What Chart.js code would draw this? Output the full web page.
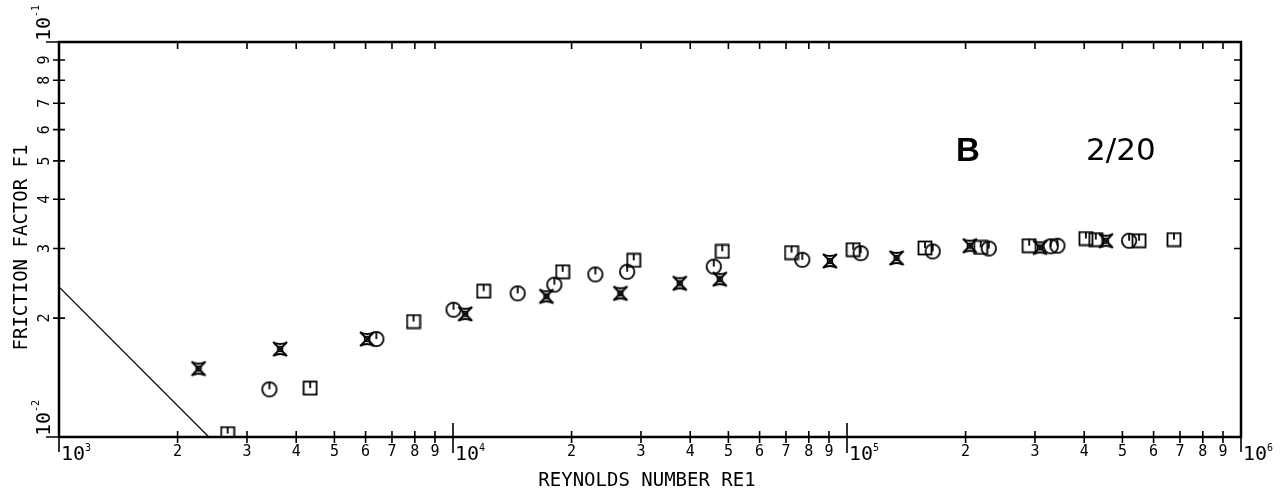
<!DOCTYPE html>
<html>
<head>
<meta charset="utf-8">
<script src="https://cdn.jsdelivr.net/npm/chart.js@4.4.1/dist/chart.umd.min.js"></script>
<style>
  body { margin: 0; background: #fff; }
</style>
</head>
<body>
<canvas id="myChart" width="1281" height="497"></canvas>
<script>
// data (Re, f)
const reCircle = [3420, 6390, 10030, 14590, 18080, 22980, 27670, 45900, 77000, 108300, 165000, 229000, 329000, 342000, 520000];
const fCircle  = [0.0132, 0.0177, 0.0210, 0.0231, 0.0243, 0.0258, 0.0262, 0.0270, 0.0281, 0.0292, 0.0295, 0.0300, 0.0304, 0.0305, 0.0314];

const reSquare = [2680, 4340, 7940, 11960, 18980, 28750, 48240, 72300, 103700, 157700, 218500, 290000, 404000, 428000, 551000, 676000];
const fSquare  = [0.0102, 0.0133, 0.0196, 0.0234, 0.0262, 0.0280, 0.0295, 0.0293, 0.0298, 0.0301, 0.0302, 0.0305, 0.0318, 0.0316, 0.0314, 0.0316];

const reCross = [2260, 3640, 6050, 10740, 17260, 26600, 37630, 47550, 90500, 133600, 205000, 309000, 454000];
const fCross  = [0.0149, 0.0167, 0.0177, 0.0205, 0.0227, 0.0231, 0.0245, 0.0251, 0.0279, 0.0284, 0.0305, 0.0302, 0.0314];

// laminar line
const reLine = [1000, 2400];
const fLine  = [0.024, 0.01];

// axis ticks
const xDecades = [1e3, 1e4, 1e5, 1e6];
const xDecadeExp = ['3', '4', '5', '6'];
const yDecades = [0.01, 0.1];
const yDecadeExp = ['-2', '-1'];
const minorDigits = [2, 3, 4, 5, 6, 7, 8, 9];

const monoFont = '"DejaVu Sans Mono", monospace';

function pts(xs, ys) {
    return xs.map((x, i) => ({ x: x, y: ys[i] }));
}

function markerCircle() {
    const c = document.createElement('canvas');
    c.width = 18; c.height = 18;
    const g = c.getContext('2d');
    g.strokeStyle = '#000'; g.lineWidth = 1.8;
    g.beginPath(); g.arc(9, 9, 7.2, 0, Math.PI * 2); g.stroke();
    g.beginPath(); g.moveTo(9, 2); g.lineTo(9, 9); g.stroke();
    return c;
}
function markerSquare() {
    const c = document.createElement('canvas');
    c.width = 16; c.height = 16;
    const g = c.getContext('2d');
    g.strokeStyle = '#000'; g.lineWidth = 1.8;
    g.strokeRect(1.5, 1.5, 13, 13);
    g.beginPath(); g.moveTo(8, 1.5); g.lineTo(8, 8); g.stroke();
    return c;
}
function markerCross() {
    const c = document.createElement('canvas');
    c.width = 18; c.height = 18;
    const g = c.getContext('2d');
    g.strokeStyle = '#000'; g.lineWidth = 1.8;
    g.beginPath();
    g.moveTo(2, 2); g.lineTo(16, 16);
    g.moveTo(16, 2); g.lineTo(2, 16);
    g.moveTo(2, 2); g.quadraticCurveTo(9, 6, 16, 2);
    g.moveTo(2, 16); g.quadraticCurveTo(9, 12, 16, 16);
    g.stroke();
    g.lineWidth = 1.3;
    g.strokeRect(6.5, 6.5, 5, 5);
    return c;
}

// frame, ticks and labels drawn from the scales
const axesPlugin = {
    id: 'plotterAxes',
    afterDraw(chart) {
        const ctx = chart.ctx;
        const a = chart.chartArea;
        const xs = chart.scales.x, ys = chart.scales.y;
        ctx.save();
        ctx.strokeStyle = '#000';
        ctx.fillStyle = '#000';
        ctx.lineWidth = 2.5;
        ctx.strokeRect(a.left, a.top, a.right - a.left, a.bottom - a.top);

        ctx.lineWidth = 1.6;
        ctx.beginPath();
        // x minor ticks
        for (let d = 0; d < xDecades.length - 1; d++) {
            minorDigits.forEach(k => {
                const px = xs.getPixelForValue(xDecades[d] * k);
                ctx.moveTo(px, a.bottom - 6); ctx.lineTo(px, a.bottom + 6);
                ctx.moveTo(px, a.top); ctx.lineTo(px, a.top + 7);
            });
        }
        // x decades
        xDecades.forEach((v, i) => {
            const px = xs.getPixelForValue(v);
            if (i > 0 && i < xDecades.length - 1) {
                ctx.moveTo(px, a.bottom - 14); ctx.lineTo(px, a.bottom + 16);
            } else {
                ctx.moveTo(px, a.bottom); ctx.lineTo(px, a.bottom + 15);
            }
        });
        // y minor ticks
        minorDigits.forEach(k => {
            const py = ys.getPixelForValue(yDecades[0] * k);
            ctx.moveTo(a.left - 6, py); ctx.lineTo(a.left + 6, py);
            ctx.moveTo(a.right - 7, py); ctx.lineTo(a.right, py);
        });
        yDecades.forEach(v => {
            const py = ys.getPixelForValue(v);
            ctx.moveTo(a.left - 13, py); ctx.lineTo(a.left, py);
        });
        ctx.stroke();

        // x labels
        ctx.textAlign = 'center';
        ctx.textBaseline = 'top';
        ctx.font = '15px ' + monoFont;
        for (let d = 0; d < xDecades.length - 1; d++) {
            minorDigits.forEach(k => {
                const px = xs.getPixelForValue(xDecades[d] * k);
                ctx.fillText(String(k), px, a.bottom + 8);
            });
        }
        ctx.textAlign = 'left';
        xDecades.forEach((v, i) => {
            const px = xs.getPixelForValue(v) + 2;
            ctx.font = '20px ' + monoFont;
            ctx.fillText('10', px, a.bottom + 8);
            const w = ctx.measureText('10').width;
            ctx.font = '10px ' + monoFont;
            ctx.fillText(xDecadeExp[i], px + w, a.bottom + 6);
        });

        // y labels (rotated)
        const ly = a.left - 14;
        minorDigits.forEach(k => {
            const py = ys.getPixelForValue(yDecades[0] * k);
            ctx.save();
            ctx.translate(ly, py);
            ctx.rotate(-Math.PI / 2);
            ctx.textAlign = 'center';
            ctx.textBaseline = 'middle';
            ctx.font = '15px ' + monoFont;
            ctx.fillText(String(k), 0, 0);
            ctx.restore();
        });
        yDecades.forEach((v, i) => {
            const py = ys.getPixelForValue(v);
            ctx.save();
            ctx.translate(ly, py);
            ctx.rotate(-Math.PI / 2);
            ctx.textAlign = 'left';
            ctx.textBaseline = 'middle';
            ctx.font = '20px ' + monoFont;
            ctx.fillText('10', 1, 0);
            const w = ctx.measureText('10').width;
            ctx.font = '10px ' + monoFont;
            ctx.textBaseline = 'top';
            ctx.fillText(yDecadeExp[i], 1 + w, -14);
            ctx.restore();
        });

        // axis titles
        ctx.font = '19px ' + monoFont;
        ctx.textAlign = 'center';
        ctx.textBaseline = 'alphabetic';
        ctx.fillText('REYNOLDS NUMBER RE1', (a.left + a.right) / 2 - 3, 486);
        ctx.save();
        ctx.translate(27, (a.top + a.bottom) / 2 + 8);
        ctx.rotate(-Math.PI / 2);
        ctx.fillText('FRICTION FACTOR F1', 0, 0);
        ctx.restore();

        // panel annotations
        ctx.textAlign = 'left';
        ctx.font = 'bold 33px "Liberation Sans", Arial, sans-serif';
        ctx.fillText('B', 956, 161);
        ctx.font = '31px "DejaVu Sans", sans-serif';
        ctx.fillText('2/20', 1086, 160);
        ctx.restore();
    }
};

const ctx = document.getElementById('myChart');

new Chart(ctx, {
    type: 'scatter',
    data: {
        datasets: [
            {
                label: 'circle',
                data: pts(reCircle, fCircle),
                pointStyle: markerCircle()
            },
            {
                label: 'square',
                data: pts(reSquare, fSquare),
                pointStyle: markerSquare()
            },
            {
                label: 'cross',
                data: pts(reCross, fCross),
                pointStyle: markerCross()
            },
            {
                label: 'laminar',
                type: 'line',
                data: pts(reLine, fLine),
                borderColor: '#000',
                borderWidth: 1.2,
                pointRadius: 0,
                fill: false
            }
        ]
    },
    options: {
        responsive: false,
        animation: false,
        devicePixelRatio: 1,
        layout: {
            padding: { left: 59, right: 40, top: 42, bottom: 60 }
        },
        scales: {
            x: {
                type: 'logarithmic',
                min: 1000,
                max: 1000000,
                display: false
            },
            y: {
                type: 'logarithmic',
                min: 0.01,
                max: 0.1,
                display: false
            }
        },
        plugins: {
            legend: { display: false },
            tooltip: { enabled: false }
        }
    },
    plugins: [axesPlugin]
});
</script>
</body>
</html>
